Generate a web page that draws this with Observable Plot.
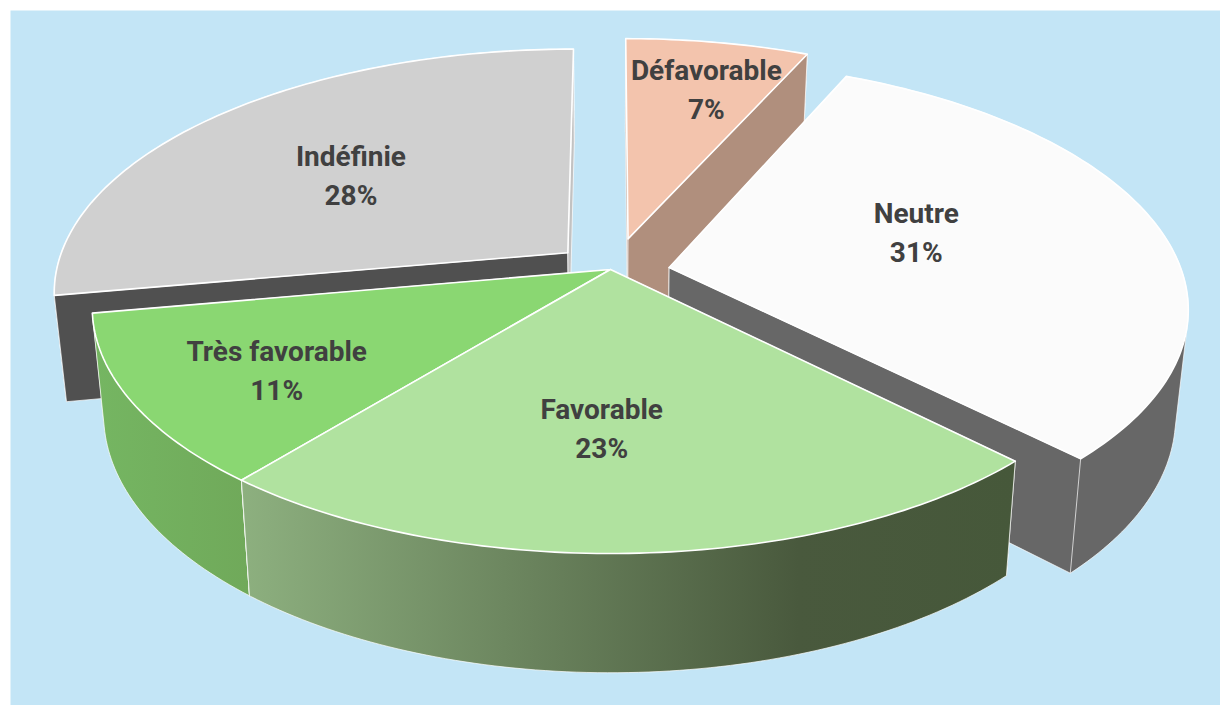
<!DOCTYPE html>
<html lang="fr">
<head>
<meta charset="utf-8">
<script src="https://cdn.jsdelivr.net/npm/d3@7"></script>
<script src="https://cdn.jsdelivr.net/npm/@observablehq/plot@0.6"></script>
<style>
  html, body { margin: 0; padding: 0; background: #fff; }
  svg { display: block; }
</style>
</head>
<body>
<div id="chart"></div>
<script>
// Data: slice shares (labels show them rounded)
const categories = ["Défavorable", "Neutre", "Favorable", "Très favorable", "Indéfinie"];
const shares = [6.75, 30.83, 23.36, 11.23, 27.83];

// Styles
const topColors = ["#f3c4ad", "#fbfbfb", "#b0e29f", "#8ad772", "#d0d0d0"];
const wallColors = ["#b08f7d", "#676767", "url(#wall-favorable)", "url(#wall-tres)", "#505050"];
const endWallColors = ["#b08f7d", "#676767", "url(#wall-favorable)", "url(#wall-tres)", "#c2c2c2"];
const background = "#c3e5f6";

// Layout of the exploded 3D pie
const explode = [0.135, 0.115, 0, 0, 0.11];
const explodeDir = [15, 86, 0, 0, 310];
const labelRadius = [0.739, 0.5185, 0.603, 0.7295, 0.57];
const labelShift = [1.7, -6.4, 4.15, -2.6, -2.9];
const W = 1220, H = 705, cx = 610, cy = 269, A = 512, B = 240, k = 0.155;
const bottomX = 0.978, bottomY = 1.05, bottomDrop = 105 / B;

const rad = d => d * Math.PI / 180;
const project = (u, v) => { const s = 1 / (1 - k * v); return {x: u * s, y: v * s}; };
const lower = p => ({x: p.x * bottomX, y: p.y * bottomY + bottomDrop});
const total = d3.sum(shares);

let acc = 0;
const slices = categories.map((name, i) => {
  const a0 = acc / total * 360; acc += shares[i]; const a1 = acc / total * 360;
  const ou = explode[i] * Math.sin(rad(explodeDir[i])), ov = -explode[i] * Math.cos(rad(explodeDir[i]));
  const at = (a, r = 1) => project(ou + r * Math.sin(rad(a)), ov - r * Math.cos(rad(a)));
  const arc = d3.range(a0, a1, 1).concat(a1).map(a => at(a));
  const apex = at(a0, 0);
  const mid = (a0 + a1) / 2;
  const poly = pts => [...pts, pts[0]];
  const radial = a => poly([apex, at(a), lower(at(a)), lower(apex)]);
  const faces = a => -Math.cos(rad(a)) > -0.01; // normal direction points toward the viewer
  const swept = [...arc, ...arc.map(lower)];
  const hull = d3.polygonHull(swept.map(p => [p.x, p.y])).map(([x, y]) => ({x, y}));
  return {
    name, i, mid,
    top: poly([apex, ...arc]),
    rim: poly(hull),
    start: {pts: radial(a0), front: faces(a0 - 90), fill: wallColors[i]},
    end: {pts: radial(a1), front: faces(a1 + 90), fill: endWallColors[i]},
    label: {...at(mid + labelShift[i], labelRadius[i]), text: `${name}\n${Math.round(shares[i])}%`}
  };
});
const order = d3.sort(slices, s => -Math.cos(rad(s.mid)));

const face = (pts, fill, stroke, strokeWidth, strokeOpacity = 1) =>
  Plot.line(pts, {x: "x", y: "y", fill, stroke, strokeWidth, strokeOpacity, strokeLinejoin: "round", curve: "linear"});

const marks = [
  () => {
    const defs = d3.create("svg:defs");
    const grad = (id, stops) => {
      const g = defs.append("linearGradient").attr("id", id);
      stops.forEach(([o, c]) => g.append("stop").attr("offset", o).attr("stop-color", c));
    };
    grad("wall-favorable", [[0, "#8db07f"], [0.72, "#49593d"], [1, "#46583a"]]);
    grad("wall-tres", [[0, "#75b662"], [1, "#70a95a"]]);
    return defs.node();
  },
  Plot.frame({fill: background, stroke: null, insetLeft: 10, insetTop: 10})
];
for (const s of order) {
  const sides = [s.start, s.end];
  for (const f of sides.filter(f => !f.front)) marks.push(face(f.pts, f.fill, "#fff", 1, 0.7));
  marks.push(face(s.rim, wallColors[s.i], "#fff", 1, 0.7));
  for (const f of sides.filter(f => f.front)) marks.push(face(f.pts, f.fill, "#fff", 1, 0.7));
  marks.push(face(s.top, topColors[s.i], "#fff", 1.6));
}
marks.push(Plot.text(slices.map(s => s.label), {
  x: "x", y: "y", text: "text", fill: "#404040", dy: -3,
  fontFamily: "Roboto", fontWeight: 700, fontSize: 28, lineHeight: 1.4
}));

document.getElementById("chart").append(Plot.plot({
  width: W, height: H,
  marginTop: 0, marginRight: 0, marginBottom: 0, marginLeft: 0,
  x: {axis: null, domain: [-cx / A, (W - cx) / A], range: [0, W]},
  y: {axis: null, domain: [-cy / B, (H - cy) / B], range: [0, H]},
  marks
}));
</script>
</body>
</html>
